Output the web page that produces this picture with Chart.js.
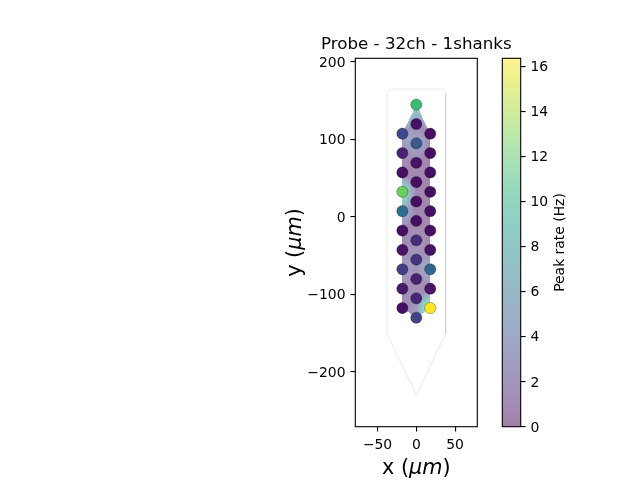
<!DOCTYPE html>
<html>
<head>
<meta charset="utf-8">
<script src="https://cdn.jsdelivr.net/npm/chart.js@4.4.1/dist/chart.umd.min.js"></script>
<style>
body { margin: 0; background: #fff; }
#wrap { position: relative; width: 640px; height: 480px; }
#wrap canvas { position: absolute; top: 0; }
</style>
</head>
<body>
<div id="wrap">
<canvas id="probe" width="640" height="480" style="left:0px"></canvas>
<canvas id="cbar" width="160" height="480" style="left:480px"></canvas>
</div>
<script>
var titleText = 'Probe - 32ch - 1shanks';
var colorbarLabel = 'Peak rate (Hz)';

// contacts: left column, centre column, right column (um)
var contactX = [-18, -18, -18, -18, -18, -18, -18, -18, -18, -18,
                0, 0, 0, 0, 0, 0, 0, 0, 0, 0, 0, 0,
                18, 18, 18, 18, 18, 18, 18, 18, 18, 18];
var contactY = [107.5, 82.5, 57.5, 32.5, 7.5, -17.5, -42.5, -67.5, -92.5, -117.5,
                145, 120, 95, 70, 45, 20, -5, -30, -55, -80, -105, -130,
                107.5, 82.5, 57.5, 32.5, 7.5, -17.5, -42.5, -67.5, -92.5, -117.5];
// peak rate per contact (Hz)
var peakRate = [3.6, 1.5, 0.7, 12.6, 5.7, 0.6, 0.8, 2.9, 1.1, 0.6,
                11.1, 0.7, 4.5, 0.8, 0.6, 0.6, 0.6, 2.0, 2.4, 1.4, 1.7, 3.3,
                0.6, 0.6, 0.6, 0.6, 0.6, 0.6, 0.8, 5.4, 0.9, 16.35];

// probe outline (um)
var contourX = [-38, -36.2, -32, 32, 36.2, 38, 38, 0, -38];
var contourY = [159, 163.2, 165, 165, 163.2, 159, -150, -230, -150];

var xTicks = [-50, 0, 50];
var yTicks = [-200, -100, 0, 100, 200];
var cbTicks = [0, 2, 4, 6, 8, 10, 12, 14, 16];
var rateMin = 0, rateMax = 16.35;

var viridisStops = ['#440154', '#48186a', '#472d7b', '#424086', '#3b528b', '#33638d',
  '#2c728e', '#26828e', '#21918c', '#1fa088', '#28ae80', '#3fbc73', '#5ec962',
  '#84d44b', '#addc30', '#d8e219', '#fde725'];

function hexRgb(h) {
  return [parseInt(h.substr(1, 2), 16), parseInt(h.substr(3, 2), 16), parseInt(h.substr(5, 2), 16)];
}
var viridisRgb = viridisStops.map(hexRgb);

function viridis(t) {
  t = Math.max(0, Math.min(1, t));
  var f = t * (viridisRgb.length - 1);
  var i = Math.min(Math.floor(f), viridisRgb.length - 2);
  var u = f - i;
  var a = viridisRgb[i], b = viridisRgb[i + 1];
  return [a[0] + (b[0] - a[0]) * u, a[1] + (b[1] - a[1]) * u, a[2] + (b[2] - a[2]) * u];
}
function rateT(v) { return (v - rateMin) / (rateMax - rateMin); }
function rgbStr(c) { return 'rgb(' + Math.round(c[0]) + ',' + Math.round(c[1]) + ',' + Math.round(c[2]) + ')'; }
function fadeStr(c, a) {
  return rgbStr([255 - a * (255 - c[0]), 255 - a * (255 - c[1]), 255 - a * (255 - c[2])]);
}

function minusFmt(v) { return String(v).replace('-', '\u2212'); }

// delaunay (bowyer-watson) for the interpolated map
function inCircle(xs, ys, t, x, y) {
  var ax = xs[t[0]], ay = ys[t[0]], bx = xs[t[1]], by = ys[t[1]], cx = xs[t[2]], cy = ys[t[2]];
  var D = 2 * (ax * (by - cy) + bx * (cy - ay) + cx * (ay - by));
  var a2 = ax * ax + ay * ay, b2 = bx * bx + by * by, c2 = cx * cx + cy * cy;
  var ux = (a2 * (by - cy) + b2 * (cy - ay) + c2 * (ay - by)) / D;
  var uy = (a2 * (cx - bx) + b2 * (ax - cx) + c2 * (bx - ax)) / D;
  var r2 = (ax - ux) * (ax - ux) + (ay - uy) * (ay - uy);
  return (x - ux) * (x - ux) + (y - uy) * (y - uy) < r2 - 1e-7;
}
function triangulate(px, py) {
  var n = px.length;
  var xs = px.slice(), ys = py.slice();
  var minX = Math.min.apply(null, xs), maxX = Math.max.apply(null, xs);
  var minY = Math.min.apply(null, ys), maxY = Math.max.apply(null, ys);
  var d = Math.max(maxX - minX, maxY - minY) * 100;
  var mx = (minX + maxX) / 2, my = (minY + maxY) / 2;
  xs.push(mx - d, mx, mx + d);
  ys.push(my - d, my + d, my - d);
  var tris = [[n, n + 1, n + 2]];
  for (var i = 0; i < n; i++) {
    var edges = [], keep = [];
    tris.forEach(function(t) {
      if (inCircle(xs, ys, t, xs[i], ys[i])) edges.push([t[0], t[1]], [t[1], t[2]], [t[2], t[0]]);
      else keep.push(t);
    });
    var counts = {};
    edges.forEach(function(e) {
      var k = Math.min(e[0], e[1]) + '_' + Math.max(e[0], e[1]);
      counts[k] = (counts[k] || 0) + 1;
    });
    edges.forEach(function(e) {
      var k = Math.min(e[0], e[1]) + '_' + Math.max(e[0], e[1]);
      if (counts[k] === 1) keep.push([e[0], e[1], i]);
    });
    tris = keep;
  }
  return tris.filter(function(t) { return t[0] < n && t[1] < n && t[2] < n; });
}
var triangles = triangulate(contactX, contactY);

var contacts = contactX.map(function(x, i) { return {x: x, y: contactY[i]}; });
var contactColors = peakRate.map(function(v) { return rgbStr(viridis(rateT(v))); });
var contour = contourX.map(function(x, i) { return {x: x, y: contourY[i]}; });
contour.push(contour[0]);

Chart.defaults.font.family = '"DejaVu Sans"';
Chart.defaults.font.size = 13.9;
Chart.defaults.color = '#000';

function drawLabel(ctx, parts, size) {
  var w = 0;
  parts.forEach(function(p) {
    ctx.font = (p[1] ? 'italic ' : '') + size + 'px "DejaVu Sans"';
    p.w = ctx.measureText(p[0]).width;
    w += p.w;
  });
  var x = -w / 2;
  parts.forEach(function(p) {
    ctx.font = (p[1] ? 'italic ' : '') + size + 'px "DejaVu Sans"';
    ctx.fillText(p[0], x, 0);
    x += p.w;
  });
}

var probePlugin = {
  id: 'probeExtras',
  beforeDatasetDraw: function(chart, args) {
    if (args.index !== 0) return;
    var xs = chart.scales.x, ys = chart.scales.y;
    var W = chart.width, H = chart.height;
    var off = document.createElement('canvas');
    off.width = W; off.height = H;
    var octx = off.getContext('2d');
    var img = octx.createImageData(W, H);
    var data = img.data;
    triangles.forEach(function(t) {
      var ax = xs.getPixelForValue(contactX[t[0]]), ay = ys.getPixelForValue(contactY[t[0]]);
      var bx = xs.getPixelForValue(contactX[t[1]]), by = ys.getPixelForValue(contactY[t[1]]);
      var cx = xs.getPixelForValue(contactX[t[2]]), cy = ys.getPixelForValue(contactY[t[2]]);
      var va = peakRate[t[0]], vb = peakRate[t[1]], vc = peakRate[t[2]];
      var det = (by - cy) * (ax - cx) + (cx - bx) * (ay - cy);
      var x0 = Math.floor(Math.min(ax, bx, cx)), x1 = Math.ceil(Math.max(ax, bx, cx));
      var y0 = Math.floor(Math.min(ay, by, cy)), y1 = Math.ceil(Math.max(ay, by, cy));
      for (var py = y0; py <= y1; py++) {
        for (var px = x0; px <= x1; px++) {
          var x = px + 0.5, y = py + 0.5;
          var w1 = ((by - cy) * (x - cx) + (cx - bx) * (y - cy)) / det;
          var w2 = ((cy - ay) * (x - cx) + (ax - cx) * (y - cy)) / det;
          var w3 = 1 - w1 - w2;
          if (w1 < -1e-6 || w2 < -1e-6 || w3 < -1e-6) continue;
          var c = viridis(rateT(w1 * va + w2 * vb + w3 * vc));
          var k = (py * W + px) * 4;
          data[k] = c[0]; data[k + 1] = c[1]; data[k + 2] = c[2]; data[k + 3] = 128;
        }
      }
    });
    octx.putImageData(img, 0, 0);
    chart.ctx.drawImage(off, 0, 0);
  },
  afterDraw: function(chart) {
    var ctx = chart.ctx, a = chart.chartArea;
    ctx.save();
    ctx.strokeStyle = '#000';
    ctx.lineWidth = 1.1;
    ctx.strokeRect(a.left, a.top, a.right - a.left, a.bottom - a.top);
    ctx.fillStyle = '#000';
    var cxm = (a.left + a.right) / 2;
    ctx.textAlign = 'left';
    ctx.textBaseline = 'alphabetic';
    ctx.save();
    ctx.translate(cxm, 49.3);
    drawLabel(ctx, [[titleText, false]], 16.7);
    ctx.restore();
    ctx.save();
    ctx.translate(cxm, 474);
    drawLabel(ctx, [['x (', false], ['\u03bcm', true], [')', false]], 20.8);
    ctx.restore();
    ctx.save();
    ctx.translate(301, (a.top + a.bottom) / 2);
    ctx.rotate(-Math.PI / 2);
    drawLabel(ctx, [['y (', false], ['\u03bcm', true], [')', false]], 20.8);
    ctx.restore();
    ctx.restore();
  }
};

var axisGrid = {drawOnChartArea: false, tickLength: 4.9, color: '#000', lineWidth: 1.1};

new Chart(document.getElementById('probe'), {
  type: 'scatter',
  data: {
    datasets: [
      {
        label: 'contacts',
        data: contacts,
        pointRadius: 5.6,
        pointBackgroundColor: contactColors,
        pointBorderColor: 'rgba(0,0,0,0.5)',
        pointBorderWidth: 0.6,
        order: 1
      },
      {
        label: 'contour',
        data: contour,
        showLine: true,
        pointRadius: 0,
        borderColor: 'rgba(0,0,0,0.09)',
        borderWidth: 1,
        tension: 0,
        fill: false,
        order: 2
      }
    ]
  },
  options: {
    responsive: false,
    animation: false,
    events: [],
    layout: {padding: {left: 0, right: 162.7, top: 58.3, bottom: 0}},
    plugins: {legend: {display: false}, tooltip: {enabled: false}},
    scales: {
      x: {
        type: 'linear', min: -78.7, max: 78.7,
        afterFit: function(s) { s.height = 53.3; },
        afterBuildTicks: function(s) { s.ticks = xTicks.map(function(v) { return {value: v}; }); },
        grid: axisGrid,
        border: {display: false},
        ticks: {padding: 5.8, maxRotation: 0, autoSkip: false, callback: minusFmt}
      },
      y: {
        type: 'linear', min: -270.6, max: 204.8,
        afterFit: function(s) { s.width = 355.3; },
        afterBuildTicks: function(s) { s.ticks = yTicks.map(function(v) { return {value: v}; }); },
        grid: axisGrid,
        border: {display: false},
        ticks: {padding: 4.9, labelOffset: 1.3, autoSkip: false, callback: minusFmt}
      }
    }
  },
  plugins: [probePlugin]
});

var cbPlugin = {
  id: 'colorbar',
  beforeDatasetsDraw: function(chart) {
    var ctx = chart.ctx, a = chart.chartArea, ys = chart.scales.y;
    var g = ctx.createLinearGradient(0, ys.getPixelForValue(rateMin), 0, ys.getPixelForValue(rateMax));
    viridisRgb.forEach(function(c, i) { g.addColorStop(i / (viridisRgb.length - 1), fadeStr(c, 0.5)); });
    ctx.save();
    ctx.fillStyle = g;
    ctx.fillRect(a.left, a.top, a.right - a.left, a.bottom - a.top);
    ctx.restore();
  },
  afterDraw: function(chart) {
    var ctx = chart.ctx, a = chart.chartArea;
    ctx.save();
    ctx.strokeStyle = '#000';
    ctx.lineWidth = 1.1;
    ctx.strokeRect(a.left, a.top, a.right - a.left, a.bottom - a.top);
    ctx.fillStyle = '#000';
    ctx.textAlign = 'left';
    ctx.textBaseline = 'alphabetic';
    ctx.translate(84, (a.top + a.bottom) / 2);
    ctx.rotate(-Math.PI / 2);
    drawLabel(ctx, [[colorbarLabel, false]], 13.9);
    ctx.restore();
  }
};

new Chart(document.getElementById('cbar'), {
  type: 'scatter',
  data: {datasets: []},
  options: {
    responsive: false,
    animation: false,
    events: [],
    layout: {padding: {left: 22.3, right: 59.3, top: 58.3, bottom: 53.3}},
    plugins: {legend: {display: false}, tooltip: {enabled: false}},
    scales: {
      x: {type: 'linear', display: false, min: 0, max: 1},
      y: {
        type: 'linear', position: 'right', min: rateMin, max: rateMax,
        afterFit: function(s) { s.width = 60; },
        afterBuildTicks: function(s) { s.ticks = cbTicks.map(function(v) { return {value: v}; }); },
        grid: axisGrid,
        border: {display: false},
        ticks: {padding: 4.9, labelOffset: 1.3, autoSkip: false}
      }
    }
  },
  plugins: [cbPlugin]
});
</script>
</body>
</html>
